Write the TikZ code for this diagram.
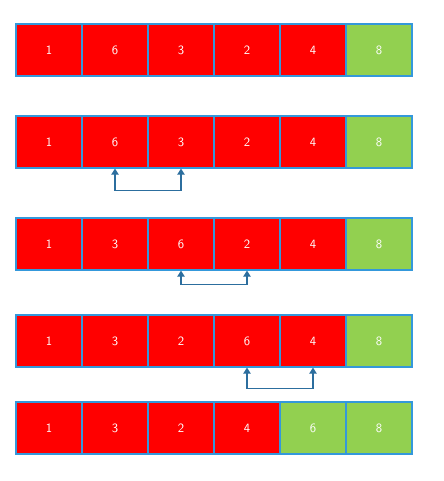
\documentclass[tikz,border=0pt]{standalone}
\usetikzlibrary{arrows.meta}
\definecolor{cellred}{RGB}{255,0,0}
\definecolor{cellgreen}{RGB}{146,208,80}
\definecolor{cellline}{RGB}{52,152,219}
\definecolor{swapline}{RGB}{44,110,158}

\begin{document}
\begin{tikzpicture}[x = 0.75pt, y = -0.75pt,
	cell/.style = {draw = cellline, line width = 0.9pt, minimum width = 49.5pt, minimum height = 39pt, inner sep = 0pt, text = white, font = \sffamily\fontsize{9.5}{11}\selectfont},
	swapper/.style = {draw = swapline, line width = 0.9pt, {Triangle[length = 4.5pt, width = 5.5pt]}-{Triangle[length = 4.5pt, width = 5.5pt]}}]

	\useasboundingbox (0, 0) rectangle (443, 481); % page

	% rows of cells: row / centre y / first green column / values
	\foreach \r/\yc/\g/\vals in {1/50/6/{1,6,3,2,4,8}, 2/142/6/{1,6,3,2,4,8}, 3/244/6/{1,3,6,2,4,8}, 4/341/6/{1,3,2,6,4,8}, 5/428/5/{1,3,2,4,6,8}}{
		\foreach \v [count = \c] in \vals{
			\ifnum\c<\g \def\fillc{cellred}\else\def\fillc{cellgreen}\fi
			\node[cell, fill = \fillc] (c\r-\c) at (-17 + 66*\c, \yc) {\v};
		}
	}

	% swaps
	\draw[swapper] (c2-2.south) -- ++(0, 22) -| (c2-3.south);
	\draw[swapper] (c3-3.south) -- ++(0, 14) -| (c3-4.south);
	\draw[swapper] (c4-4.south) -- ++(0, 21) -| (c4-5.south);

\end{tikzpicture}
\end{document}
